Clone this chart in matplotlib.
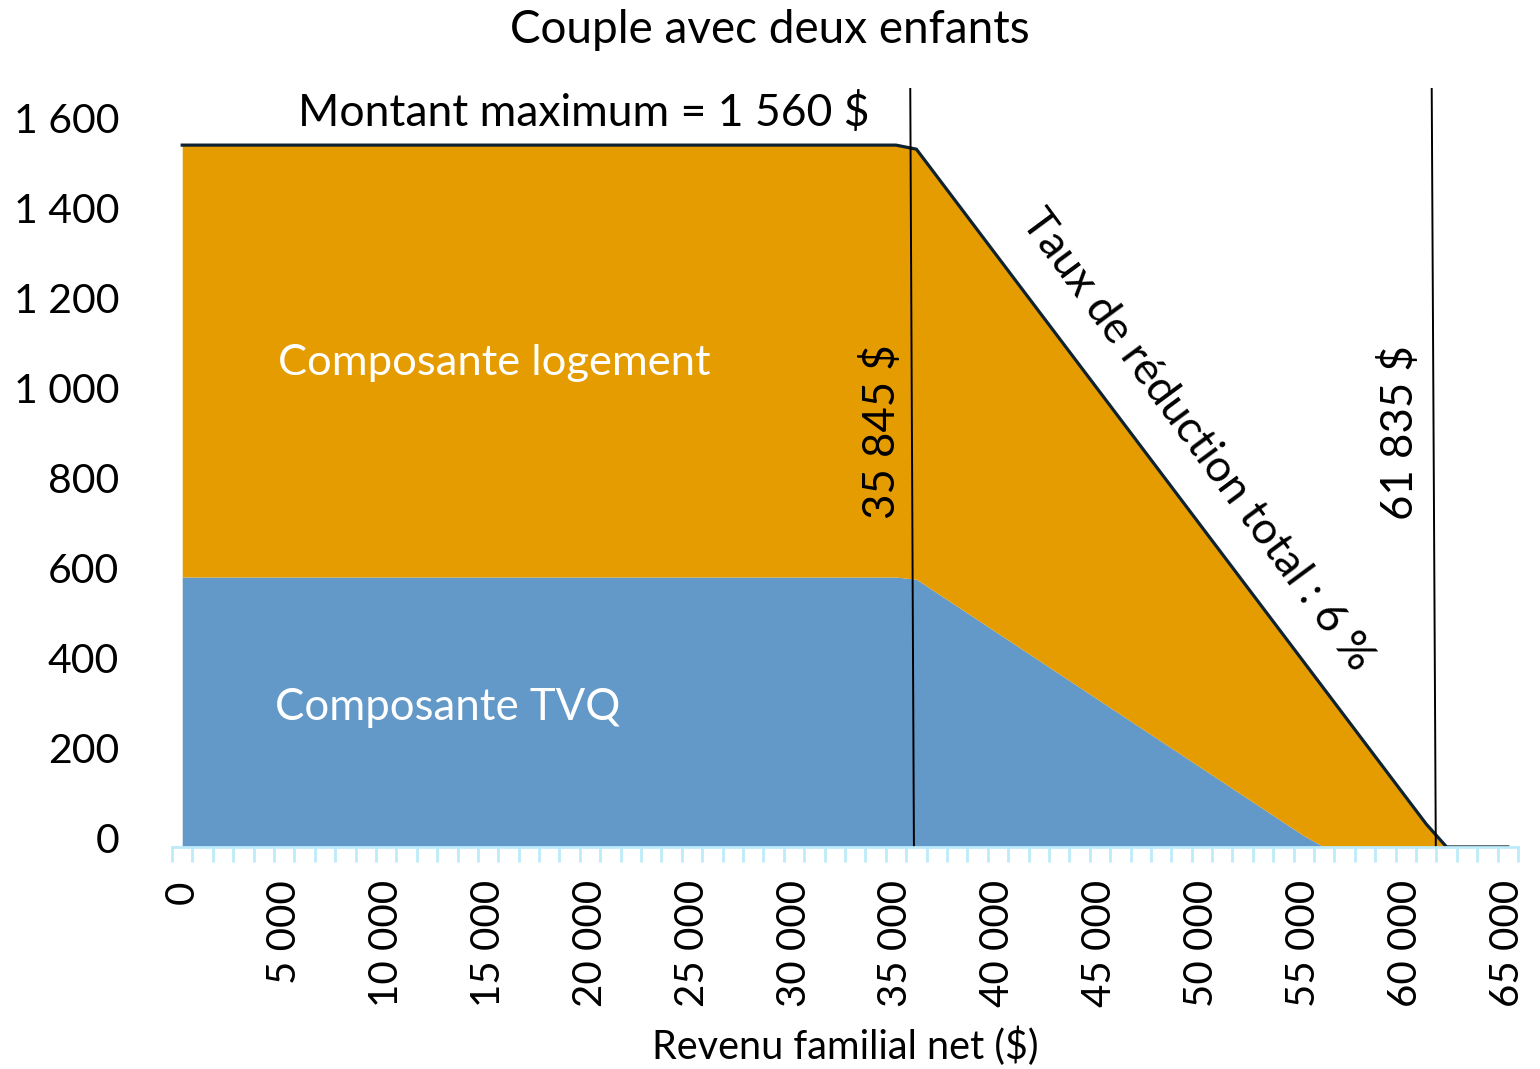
import numpy as np
import matplotlib
matplotlib.use("Agg")
import matplotlib.pyplot as plt
from matplotlib.transforms import ScaledTranslation

plt.rcParams['font.family'] = ['Lato', 'DejaVu Sans']

# data
income = [0, 35000, 36000, 55000, 56000, 61000, 62000, 65000]
total = [1560, 1560, 1551, 411, 351, 51, 0, 0]
tvq = [600, 600, 595, 25, 0, 0, 0, 0]
y_ticks = [0, 200, 400, 600, 800, 1000, 1200, 1400, 1600]
x_ticks = list(range(0, 65001, 5000))

def fmt(v):
    return f"{v:,}".replace(",", " ")

ORANGE = "#E59C00"
BLUE = "#6399C8"
LINE = "#0F2230"
AXIS = "#BDEBFA"

fig = plt.figure(figsize=(15.4, 10.69), dpi=100)
ax = fig.add_axes([0.1117, 0.2077, 0.874, 0.710])

inc = np.array(income)
tot = np.array(total)
tv = np.array(tvq)

ax.fill_between(inc, 0, tv, color=BLUE, lw=0)
ax.fill_between(inc, tv, tot, color=ORANGE, lw=0)
ax.plot(inc, tot, color=LINE, lw=2.3, solid_joinstyle='miter')

# reference lines (slightly slanted as in the source)
ax.plot([35700, 35880], [1687, 0], color="black", lw=1.4)
ax.plot([61270, 61470], [1687, 0], color="black", lw=1.4)

ax.set_xlim(-500, 65500)
ax.set_ylim(0, 1687)

ax.set_yticks(y_ticks)
ax.set_yticklabels([fmt(v) for v in y_ticks])
ax.set_xticks(x_ticks)
ax.set_xticklabels([fmt(v) for v in x_ticks], rotation=90, va='top', ha='center')
ax.set_xticks(np.arange(-500, 65501, 1000), minor=True)

ax.tick_params(axis='y', length=0, pad=38, labelsize=29.5)
ax.tick_params(axis='x', which='major', length=0, pad=24, labelsize=29)
ax.tick_params(axis='x', which='minor', length=11, width=2, color=AXIS, direction='out')

for lbl in ax.get_yticklabels():
    lbl.set_transform(lbl.get_transform() + ScaledTranslation(0, 9 / 100, fig.dpi_scale_trans))

for s in ['top', 'right', 'left']:
    ax.spines[s].set_visible(False)
ax.spines['bottom'].set_color(AXIS)
ax.spines['bottom'].set_linewidth(2)

ax.set_xlabel("Revenu familial net ($)", fontsize=28.5, labelpad=14)
fig.suptitle("Couple avec deux enfants", fontsize=33, y=0.992, va='top')

ax.text(5700, 1631, "Montant maximum = 1 560 $", fontsize=32, va='center', ha='left')
ax.text(4700, 1076, "Composante logement", fontsize=31.3, color='white', va='center', ha='left')
ax.text(4550, 309, "Composante TVQ", fontsize=31.5, color='white', va='center', ha='left')
ax.text(34300, 922, "35 845 $", fontsize=31.5, rotation=90, va='center', ha='center')
ax.text(59700, 922, "61 835 $", fontsize=31.5, rotation=90, va='center', ha='center')
ax.text(49750, 904, "Taux de réduction total : 6 %", fontsize=32,
        rotation=-53.5, rotation_mode='anchor', va='center', ha='center')

fig.savefig("out.png", dpi=100)
